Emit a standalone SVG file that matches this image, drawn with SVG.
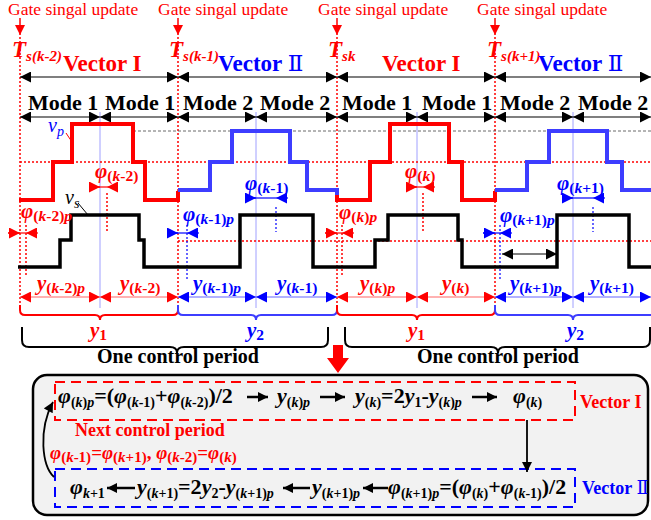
<svg xmlns="http://www.w3.org/2000/svg" width="651" height="520" viewBox="0 0 651 520" font-family="'Liberation Serif', 'Times New Roman', 'DejaVu Serif', serif">
<style>
text{font-family:'Liberation Serif','Times New Roman','DejaVu Serif',serif}
.gate{font-size:17.5px;fill:#f00}
.T{font-size:23px;font-weight:bold;font-style:italic;fill:#f00}
.Ts{font-size:15px}
.vec{font-size:23px;font-weight:bold}
.rn{font-weight:normal}
.mode{font-size:22px;font-weight:bold;fill:#000}
.r{fill:#f00}
.b{fill:#00f}
.k{fill:#000}
.phi{font-size:21px;font-weight:bold;font-style:italic}
.sb{font-size:14px;font-style:normal}
.phi .sb,.yl .sb{font-size:15.5px}
.np{font-size:19px}
.np .sb{font-size:15px}
.it{font-style:italic}
.yl{font-size:21px;font-weight:bold;font-style:italic}
.ocp{font-size:20px;font-weight:bold;fill:#000}
.eq{font-size:22px;font-weight:bold;fill:#000}
.vb{font-size:18px;font-weight:bold}
.vlab{font-size:20px;font-style:italic}
.tl{stroke:#f00;stroke-width:1.5;stroke-dasharray:2,2;fill:none}
.bl{stroke:#00f;stroke-width:1.2;stroke-dasharray:2,2;fill:none}
.ml{stroke:#a0a0ff;stroke-width:1;fill:none}
.wr{stroke:#f00;stroke-width:4;fill:none}
.wb{stroke:#3d3dff;stroke-width:4;fill:none}
.wk{stroke:#000;stroke-width:3.5;fill:none}
.dk{stroke:#000;stroke-width:1.2;fill:none}
.dr{stroke:#f66;stroke-width:1.2;fill:none}
.db{stroke:#66f;stroke-width:1.2;fill:none}
.pr{stroke:#f00;stroke-width:1.2;fill:none}
.pb{stroke:#00f;stroke-width:1.2;fill:none}
.mr{marker-end:url(#sr)}
.mb{marker-end:url(#sb)}
</style>
<defs>
<marker id="ak" viewBox="0 0 10 10" refX="10" refY="5" markerWidth="13" markerHeight="11" markerUnits="userSpaceOnUse" orient="auto-start-reverse"><path d="M0,0 L10,5 L0,10 z" fill="#000"/></marker>
<marker id="ar" viewBox="0 0 10 10" refX="10" refY="5" markerWidth="13" markerHeight="11" markerUnits="userSpaceOnUse" orient="auto-start-reverse"><path d="M0,0 L10,5 L0,10 z" fill="#f00"/></marker>
<marker id="ab" viewBox="0 0 10 10" refX="10" refY="5" markerWidth="13" markerHeight="11" markerUnits="userSpaceOnUse" orient="auto-start-reverse"><path d="M0,0 L10,5 L0,10 z" fill="#00f"/></marker>
<marker id="sr" viewBox="0 0 10 10" refX="10" refY="5" markerWidth="12" markerHeight="11" markerUnits="userSpaceOnUse" orient="auto"><path d="M0,0 L10,5 L0,10 z" fill="#f00"/></marker>
<marker id="sb" viewBox="0 0 10 10" refX="10" refY="5" markerWidth="12" markerHeight="11" markerUnits="userSpaceOnUse" orient="auto"><path d="M0,0 L10,5 L0,10 z" fill="#00f"/></marker>
<marker id="ek" viewBox="0 0 10 10" refX="10" refY="5" markerWidth="11" markerHeight="10" markerUnits="userSpaceOnUse" orient="auto"><path d="M0,0 L10,5 L0,10 z" fill="#000"/></marker>
<marker id="gd" viewBox="0 0 10 10" refX="10" refY="5" markerWidth="10" markerHeight="10" markerUnits="userSpaceOnUse" orient="auto"><path d="M0,0 L10,5 L0,10 z" fill="#f00"/></marker>
</defs>

<g id="gate-labels">
<text class="gate" x="8" y="15">Gate singal update</text>
<text class="gate" x="158" y="15">Gate singal update</text>
<text class="gate" x="318" y="15">Gate singal update</text>
<text class="gate" x="477" y="15">Gate singal update</text>
<path d="M20,18 V35" stroke="#f00" stroke-width="1.5" marker-end="url(#gd)"/>
<path d="M178,18 V35" stroke="#f00" stroke-width="1.5" marker-end="url(#gd)"/>
<path d="M337,18 V35" stroke="#f00" stroke-width="1.5" marker-end="url(#gd)"/>
<path d="M495,18 V35" stroke="#f00" stroke-width="1.5" marker-end="url(#gd)"/>
</g>

<g id="time-labels">
<text class="T" x="12" y="57">T<tspan class="Ts" dy="4">s(k-2)</tspan></text>
<text class="T" x="169" y="57">T<tspan class="Ts" dy="4">s(k-1)</tspan></text>
<text class="T" x="328" y="57">T<tspan class="Ts" dy="4">sk</tspan></text>
<text class="T" x="487" y="57">T<tspan class="Ts" dy="4">s(k+1)</tspan></text>
</g>

<g id="vector-labels">
<text class="vec r" x="63" y="71">Vector I</text>
<text class="vec b" x="218" y="71">Vector <tspan class="rn">Ⅱ</tspan></text>
<text class="vec r" x="382" y="71">Vector I</text>
<text class="vec b" x="538" y="71">Vector <tspan class="rn">Ⅱ</tspan></text>
</g>

<g id="mode-labels">
<text class="mode" x="28" y="110">Mode 1</text>
<text class="mode" x="105" y="110">Mode 1</text>
<text class="mode" x="183" y="110">Mode 2</text>
<text class="mode" x="260" y="110">Mode 2</text>
<text class="mode" x="342" y="110">Mode 1</text>
<text class="mode" x="422" y="110">Mode 1</text>
<text class="mode" x="500" y="110">Mode 2</text>
<text class="mode" x="578" y="110">Mode 2</text>
</g>

<g id="guides">
<path class="tl" d="M20,37 V305 M178,37 V305 M337,37 V305 M495,37 V305"/>
<path class="ml" d="M100,112 V308 M256,112 V308 M417,112 V308 M573,112 V308"/>
<path d="M133,131 H651" stroke="#444" stroke-width="0.8" stroke-dasharray="3,2" fill="none"/>
<path class="tl" d="M20,162 H651" stroke-width="1.2"/>
<path class="tl" d="M178,241 H651" stroke-width="1.2"/>
<path class="tl" d="M107,193 V233 M26,225 V277 M423,193 V233 M342,225 V277"/>
<path class="bl" d="M276,207 V232 M187,225 V280 M593,207 V232 M500,225 V280"/>
</g>

<g id="connectors">
<path class="dk" marker-start="url(#ak)" marker-end="url(#ak)" d="M20,77 H178"/>
<path class="dk" marker-start="url(#ak)" marker-end="url(#ak)" d="M178,77 H337"/>
<path class="dk" marker-start="url(#ak)" marker-end="url(#ak)" d="M337,77 H495"/>
<path class="dk" marker-start="url(#ak)" marker-end="url(#ak)" d="M495,77 H651"/>
<path class="dk" marker-start="url(#ak)" marker-end="url(#ak)" d="M20,117 H100"/>
<path class="dk" marker-start="url(#ak)" marker-end="url(#ak)" d="M100,117 H178"/>
<path class="dk" marker-start="url(#ak)" marker-end="url(#ak)" d="M178,117 H256"/>
<path class="dk" marker-start="url(#ak)" marker-end="url(#ak)" d="M256,117 H337"/>
<path class="dk" marker-start="url(#ak)" marker-end="url(#ak)" d="M337,117 H417"/>
<path class="dk" marker-start="url(#ak)" marker-end="url(#ak)" d="M417,117 H495"/>
<path class="dk" marker-start="url(#ak)" marker-end="url(#ak)" d="M495,117 H573"/>
<path class="dk" marker-start="url(#ak)" marker-end="url(#ak)" d="M573,117 H651"/>

<path class="dr" marker-start="url(#ar)" marker-end="url(#ar)" d="M20,297 H100"/>
<path class="dr" marker-start="url(#ar)" marker-end="url(#ar)" d="M100,297 H178"/>
<path class="db" marker-start="url(#ab)" marker-end="url(#ab)" d="M178,297 H256"/>
<path class="db" marker-start="url(#ab)" marker-end="url(#ab)" d="M256,297 H337"/>
<path class="dr" marker-start="url(#ar)" marker-end="url(#ar)" d="M337,297 H417"/>
<path class="dr" marker-start="url(#ar)" marker-end="url(#ar)" d="M417,297 H495"/>
<path class="db" marker-start="url(#ab)" marker-end="url(#ab)" d="M495,297 H573"/>
<path class="db" marker-start="url(#ab)" marker-end="url(#ab)" d="M573,297 H651"/>

<path d="M502,254 H557" stroke="#555" stroke-width="1.5" marker-start="url(#ak)" marker-end="url(#ak)"/>

<path class="pr" d="M89,187 H107"/><path class="pr mr" d="M89,187 H100"/><path class="pr mr" d="M118,187 H107"/>
<path class="pr" d="M8,233 H26"/><path class="pr mr" d="M8,233 H20"/><path class="pr mr" d="M38,233 H26"/>
<path class="pb" d="M245,198 H276"/><path class="pb mb" d="M245,198 H256"/><path class="pb mb" d="M288,198 H276"/>
<path class="pb" d="M167,233 H187"/><path class="pb mb" d="M167,233 H178"/><path class="pb mb" d="M199,233 H187"/>
<path class="pr" d="M406,187 H423"/><path class="pr mr" d="M406,187 H417"/><path class="pr mr" d="M435,187 H423"/>
<path class="pb" d="M562,198 H593"/><path class="pb mb" d="M562,198 H573"/><path class="pb mb" d="M605,198 H593"/>
<path class="pr" d="M325,233 H342"/><path class="pr mr" d="M325,233 H337"/><path class="pr mr" d="M354,233 H342"/>
<path class="pb" d="M483,233 H500"/><path class="pb mb" d="M483,233 H495"/><path class="pb mb" d="M512,233 H500"/>

<path d="M66,133 L72,142" stroke="#f00" stroke-width="1" fill="none"/>
<path d="M78,203 L88,215" stroke="#000" stroke-width="1" fill="none"/>
</g>

<g id="waveforms">
<path class="wr" d="M19,200 H53 V162 H72 V124 H133 V162 H145 V200 H178 V191"/>
<path class="wb" d="M178,190 H210 V162 H232 V131 H290 V162 H307 V190 H337 V196"/>
<path class="wr" d="M337,195 V200 H370 V162 H390 V124 H449 V162 H462 V200 H495 V191"/>
<path class="wb" d="M495,190 H527 V162 H549 V131 H607 V162 H622 V190 H651"/>
<path class="wk" d="M18,267 H60 V240 H71 V215 H139 V240 H144 V267 H240 V215 H313 V267 H375 V240 H388 V215 H458 V240 H462 V267 H557 V215 H629 V267 H651"/>
<text class="vlab b" x="48" y="132">v<tspan font-size="14" dy="4">p</tspan></text>
<text class="vlab k" x="65" y="204">v<tspan font-size="14" dy="4">s</tspan></text>
</g>

<g id="phi-labels">
<text class="phi r" x="95" y="178">φ<tspan class="sb" dy="3">(<tspan class="it">k</tspan>-2)</tspan></text>
<text class="phi r" x="21" y="218">φ<tspan class="sb" dy="3">(<tspan class="it">k</tspan>-2)<tspan class="it">p</tspan></tspan></text>
<text class="phi b" x="245" y="190">φ<tspan class="sb" dy="3">(<tspan class="it">k</tspan>-1)</tspan></text>
<text class="phi b" x="183" y="221">φ<tspan class="sb" dy="3">(<tspan class="it">k</tspan>-1)<tspan class="it">p</tspan></tspan></text>
<text class="phi r" x="405" y="178">φ<tspan class="sb" dy="3">(<tspan class="it">k</tspan>)</tspan></text>
<text class="phi r" x="339" y="219">φ<tspan class="sb" dy="3">(<tspan class="it">k</tspan>)<tspan class="it">p</tspan></tspan></text>
<text class="phi b" x="557" y="190">φ<tspan class="sb" dy="3">(<tspan class="it">k</tspan>+1)</tspan></text>
<text class="phi b" x="500" y="222">φ<tspan class="sb" dy="3">(<tspan class="it">k</tspan>+1)<tspan class="it">p</tspan></tspan></text>
</g>

<g id="y-labels">
<text class="yl r" x="37" y="290">y<tspan class="sb" dy="3">(<tspan class="it">k</tspan>-2)<tspan class="it">p</tspan></tspan></text>
<text class="yl r" x="120" y="290">y<tspan class="sb" dy="3">(<tspan class="it">k</tspan>-2)</tspan></text>
<text class="yl b" x="193" y="290">y<tspan class="sb" dy="3">(<tspan class="it">k</tspan>-1)<tspan class="it">p</tspan></tspan></text>
<text class="yl b" x="277" y="290">y<tspan class="sb" dy="3">(<tspan class="it">k</tspan>-1)</tspan></text>
<text class="yl r" x="360" y="290">y<tspan class="sb" dy="3">(<tspan class="it">k</tspan>)<tspan class="it">p</tspan></tspan></text>
<text class="yl r" x="442" y="290">y<tspan class="sb" dy="3">(<tspan class="it">k</tspan>)</tspan></text>
<text class="yl b" x="510" y="290">y<tspan class="sb" dy="3">(<tspan class="it">k</tspan>+1)<tspan class="it">p</tspan></tspan></text>
<text class="yl b" x="590" y="290">y<tspan class="sb" dy="3">(<tspan class="it">k</tspan>+1)</tspan></text>
</g>

<g id="braces">
<path d="M20,305 V310 Q20,315 25,315 H95 Q100,315 100,320 Q100,315 105,315 H173 Q178,315 178,310 V305" stroke="#f00" stroke-width="2" fill="none"/>
<path d="M178,305 V310 Q178,315 183,315 H251 Q256,315 256,320 Q256,315 261,315 H332 Q337,315 337,310 V305" stroke="#3d3dff" stroke-width="2" fill="none"/>
<path d="M337,305 V310 Q337,315 342,315 H412 Q417,315 417,320 Q417,315 422,315 H490 Q495,315 495,310 V305" stroke="#f00" stroke-width="2" fill="none"/>
<path d="M495,305 V310 Q495,315 500,315 H568 Q573,315 573,320 Q573,315 578,315 H651" stroke="#3d3dff" stroke-width="2" fill="none"/>
<text class="yl r" x="90" y="337">y<tspan class="sb" dy="3">1</tspan></text>
<text class="yl b" x="247" y="337">y<tspan class="sb" dy="3">2</tspan></text>
<text class="yl r" x="408" y="337">y<tspan class="sb" dy="3">1</tspan></text>
<text class="yl b" x="567" y="337">y<tspan class="sb" dy="3">2</tspan></text>
<path d="M22,327 V340 Q22,347 29,347 H170 Q177,347 177,353 Q177,347 184,347 H321 Q328,347 328,340 V327" stroke="#000" stroke-width="2" fill="none"/>
<path d="M345,327 V340 Q345,347 352,347 H491 Q498,347 498,353 Q498,347 505,347 H643 Q650,347 650,340 V327" stroke="#000" stroke-width="2" fill="none"/>
<text class="ocp" x="97" y="363">One control period</text>
<text class="ocp" x="417" y="363">One control period</text>
</g>

<g id="down-arrow">
<path d="M333,345 H343 V358 H349 L338,373 L327,358 H333 Z" fill="#f00"/>
</g>

<g id="control-box">
<rect x="33" y="375" width="615" height="140" rx="14" fill="#f2f2f2" stroke="#000" stroke-width="2.5"/>
<rect x="55" y="382" width="520" height="38" fill="none" stroke="#f00" stroke-width="2" stroke-dasharray="10,6"/>
<rect x="55" y="469" width="520" height="38" fill="none" stroke="#00f" stroke-width="2" stroke-dasharray="10,6"/>
<text class="vb r" x="580" y="408">Vector I</text>
<text class="vb b" x="582" y="494">Vector <tspan class="rn">Ⅱ</tspan></text>
</g>

<g id="eq-row1">
<text class="eq" x="58" y="403"><tspan class="it">φ</tspan><tspan class="sb" dy="4">(<tspan class="it">k</tspan>)<tspan class="it">p</tspan></tspan><tspan dy="-4">=(</tspan><tspan class="it">φ</tspan><tspan class="sb" dy="4">(<tspan class="it">k</tspan>-1)</tspan><tspan dy="-4">+</tspan><tspan class="it">φ</tspan><tspan class="sb" dy="4">(<tspan class="it">k</tspan>-2)</tspan><tspan dy="-4">)/2</tspan></text>
<text class="eq" x="277" y="403"><tspan class="it">y</tspan><tspan class="sb" dy="4">(<tspan class="it">k</tspan>)<tspan class="it">p</tspan></tspan></text>
<text class="eq" x="355" y="403"><tspan class="it">y</tspan><tspan class="sb" dy="4">(<tspan class="it">k</tspan>)</tspan><tspan dy="-4">=2</tspan><tspan class="it">y</tspan><tspan class="sb" dy="4">1</tspan><tspan dy="-4">-</tspan><tspan class="it">y</tspan><tspan class="sb" dy="4">(<tspan class="it">k</tspan>)<tspan class="it">p</tspan></tspan></text>
<text class="eq" x="513" y="403"><tspan class="it">φ</tspan><tspan class="sb" dy="4">(<tspan class="it">k</tspan>)</tspan></text>
</g>

<g id="eq-row2">
<text class="eq" x="70" y="494"><tspan class="it">φ</tspan><tspan class="sb" dy="4"><tspan class="it">k</tspan>+1</tspan></text>
<text class="eq" x="137" y="494"><tspan class="it">y</tspan><tspan class="sb" dy="4">(<tspan class="it">k</tspan>+1)</tspan><tspan dy="-4">=2</tspan><tspan class="it">y</tspan><tspan class="sb" dy="4">2</tspan><tspan dy="-4">-</tspan><tspan class="it">y</tspan><tspan class="sb" dy="4">(<tspan class="it">k</tspan>+1)<tspan class="it">p</tspan></tspan></text>
<text class="eq" x="312" y="494"><tspan class="it">y</tspan><tspan class="sb" dy="4">(<tspan class="it">k</tspan>+1)<tspan class="it">p</tspan></tspan></text>
<text class="eq" x="388" y="494"><tspan class="it">φ</tspan><tspan class="sb" dy="4">(<tspan class="it">k</tspan>+1)<tspan class="it">p</tspan></tspan><tspan dy="-4">=(</tspan><tspan class="it">φ</tspan><tspan class="sb" dy="4">(<tspan class="it">k</tspan>)</tspan><tspan dy="-4">+</tspan><tspan class="it">φ</tspan><tspan class="sb" dy="4">(<tspan class="it">k</tspan>-1)</tspan><tspan dy="-4">)/2</tspan></text>
</g>

<g id="next-period">
<text class="r" x="75" y="436" font-size="18" font-weight="bold">Next control period</text>
<text class="phi np r" x="50" y="459"><tspan>φ</tspan><tspan class="sb" dy="3">(<tspan class="it">k</tspan>-1)</tspan><tspan dy="-3" font-style="normal">=</tspan>φ<tspan class="sb" dy="3">(<tspan class="it">k</tspan>+1)</tspan><tspan dy="-3" font-style="normal">, </tspan>φ<tspan class="sb" dy="3">(<tspan class="it">k</tspan>-2)</tspan><tspan dy="-3" font-style="normal">=</tspan>φ<tspan class="sb" dy="3">(<tspan class="it">k</tspan>)</tspan></text>
</g>

<g id="flow-connectors" stroke="#000" stroke-width="2.5" fill="none">
<path d="M247,397 H268" marker-end="url(#ek)"/>
<path d="M320,397 H345" marker-end="url(#ek)"/>
<path d="M472,397 H497" marker-end="url(#ek)"/>
<path d="M527,420 V472" stroke-width="1.8" marker-end="url(#ek)"/>
<path d="M135,488 H107" marker-end="url(#ek)"/>
<path d="M310,488 H283" marker-end="url(#ek)"/>
<path d="M388,488 H363" marker-end="url(#ek)"/>
<path d="M54,477 C42,466 38,430 53,402" stroke-width="1.8" marker-end="url(#ek)"/>
</g>
</svg>
